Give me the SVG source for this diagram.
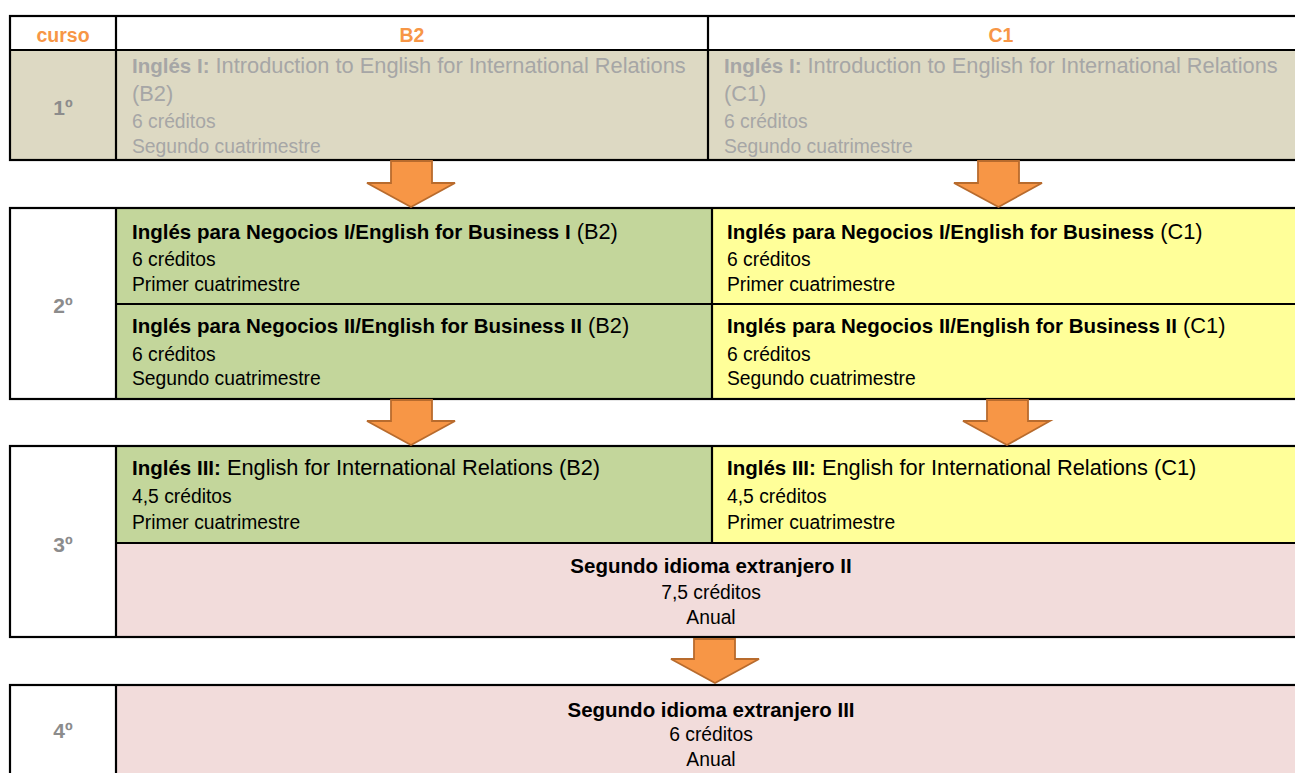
<svg xmlns="http://www.w3.org/2000/svg" width="1295" height="773" viewBox="0 0 1295 773">
<style>
text{font-family:"Liberation Sans",Arial,sans-serif;}
.ln{stroke:#000;stroke-width:2.2;fill:none;}
.tan{fill:#DDD9C3;}
.grn{fill:#C3D69B;}
.yel{fill:#FFFF99;}
.pnk{fill:#F2DCDB;}
.wht{fill:#FFFFFF;}
.hd{font-size:19.5px;font-weight:bold;fill:#F79646;text-anchor:middle;}
.yr{font-size:21px;font-weight:bold;fill:#8C8C8C;text-anchor:middle;}
.tb{font-size:20.5px;font-weight:bold;}
.tr{font-size:21.8px;}
.d{font-size:19.3px;}
.blk{fill:#000;}
.gry{fill:#A6A6A6;}
.c{text-anchor:middle;}
.arr{fill:#F79646;stroke:#B86B2D;stroke-width:1.8;stroke-linejoin:miter;}
</style>
<rect width="1295" height="773" fill="#fff"/>

<!-- Table 1 -->
<g id="t1-curso"><rect class="wht" x="10" y="16" width="106" height="34"/><text class="hd" x="63" y="42">curso</text></g>
<g id="t1-b2-head"><rect class="wht" x="116" y="16" width="592" height="34"/><text class="hd" x="412" y="42">B2</text></g>
<g id="t1-c1-head"><rect class="wht" x="708" y="16" width="600" height="34"/><text class="hd" x="1001" y="42">C1</text></g>
<g id="t1-year"><rect class="tan" x="10" y="50" width="106" height="110"/><text class="yr" x="63" y="115">1º</text></g>
<g id="t1-b2"><rect class="tan" x="116" y="50" width="592" height="110"/>
<text class="gry" x="132" y="73"><tspan class="tb">Inglés I:</tspan><tspan class="tr"> Introduction to English for International Relations</tspan></text>
<text class="gry tr" x="132" y="101">(B2)</text>
<text class="gry d" x="132" y="128">6 créditos</text>
<text class="gry d" x="132" y="153">Segundo cuatrimestre</text></g>
<g id="t1-c1"><rect class="tan" x="708" y="50" width="600" height="110"/>
<text class="gry" x="724" y="73"><tspan class="tb">Inglés I:</tspan><tspan class="tr"> Introduction to English for International Relations</tspan></text>
<text class="gry tr" x="724" y="101">(C1)</text>
<text class="gry d" x="724" y="128">6 créditos</text>
<text class="gry d" x="724" y="153">Segundo cuatrimestre</text></g>
<g id="t1-lines">
<rect class="ln" x="10" y="16" width="1300" height="144"/>
<line class="ln" x1="10" y1="50" x2="1310" y2="50"/>
<line class="ln" x1="116" y1="16" x2="116" y2="160"/>
<line class="ln" x1="708" y1="16" x2="708" y2="160"/>
</g>

<!-- Table 2 -->
<g id="t2-year"><rect class="wht" x="10" y="208" width="106" height="191"/><text class="yr" x="63" y="313">2º</text></g>
<g id="t2-b2-1"><rect class="grn" x="116" y="208" width="596" height="96"/>
<text class="blk" x="132" y="239"><tspan class="tb">Inglés para Negocios I/English for Business I</tspan><tspan class="tr"> (B2)</tspan></text>
<text class="blk d" x="132" y="266">6 créditos</text>
<text class="blk d" x="132" y="291">Primer cuatrimestre</text></g>
<g id="t2-b2-2"><rect class="grn" x="116" y="304" width="596" height="95"/>
<text class="blk" x="132" y="333"><tspan class="tb">Inglés para Negocios II/English for Business II</tspan><tspan class="tr"> (B2)</tspan></text>
<text class="blk d" x="132" y="361">6 créditos</text>
<text class="blk d" x="132" y="385">Segundo cuatrimestre</text></g>
<g id="t2-c1-1"><rect class="yel" x="712" y="208" width="596" height="96"/>
<text class="blk" x="727" y="239"><tspan class="tb">Inglés para Negocios I/English for Business</tspan><tspan class="tr"> (C1)</tspan></text>
<text class="blk d" x="727" y="266">6 créditos</text>
<text class="blk d" x="727" y="291">Primer cuatrimestre</text></g>
<g id="t2-c1-2"><rect class="yel" x="712" y="304" width="596" height="95"/>
<text class="blk" x="727" y="333"><tspan class="tb">Inglés para Negocios II/English for Business II</tspan><tspan class="tr"> (C1)</tspan></text>
<text class="blk d" x="727" y="361">6 créditos</text>
<text class="blk d" x="727" y="385">Segundo cuatrimestre</text></g>
<g id="t2-lines">
<rect class="ln" x="10" y="208" width="1300" height="191"/>
<line class="ln" x1="116" y1="208" x2="116" y2="399"/>
<line class="ln" x1="712" y1="208" x2="712" y2="399"/>
<line class="ln" x1="116" y1="304" x2="1310" y2="304"/>
</g>

<!-- Table 3 -->
<g id="t3-year"><rect class="wht" x="10" y="446" width="106" height="191"/><text class="yr" x="63" y="552">3º</text></g>
<g id="t3-b2"><rect class="grn" x="116" y="446" width="596" height="97"/>
<text class="blk" x="132" y="475"><tspan class="tb">Inglés III:</tspan><tspan class="tr"> English for International Relations (B2)</tspan></text>
<text class="blk d" x="132" y="503">4,5 créditos</text>
<text class="blk d" x="132" y="529">Primer cuatrimestre</text></g>
<g id="t3-c1"><rect class="yel" x="712" y="446" width="596" height="97"/>
<text class="blk" x="727" y="475"><tspan class="tb">Inglés III:</tspan><tspan class="tr"> English for International Relations (C1)</tspan></text>
<text class="blk d" x="727" y="503">4,5 créditos</text>
<text class="blk d" x="727" y="529">Primer cuatrimestre</text></g>
<g id="t3-second"><rect class="pnk" x="116" y="543" width="1192" height="94"/>
<text class="blk tb c" x="711" y="573">Segundo idioma extranjero II</text>
<text class="blk d c" x="711" y="599">7,5 créditos</text>
<text class="blk d c" x="711" y="624">Anual</text></g>
<g id="t3-lines">
<rect class="ln" x="10" y="446" width="1300" height="191"/>
<line class="ln" x1="116" y1="446" x2="116" y2="637"/>
<line class="ln" x1="712" y1="446" x2="712" y2="543"/>
<line class="ln" x1="116" y1="543" x2="1310" y2="543"/>
</g>

<!-- Table 4 -->
<g id="t4-year"><rect class="wht" x="10" y="685" width="106" height="95"/><text class="yr" x="63" y="738">4º</text></g>
<g id="t4-third"><rect class="pnk" x="116" y="685" width="1192" height="95"/>
<text class="blk tb c" x="711" y="717">Segundo idioma extranjero III</text>
<text class="blk d c" x="711" y="741">6 créditos</text>
<text class="blk d c" x="711" y="766">Anual</text></g>
<g id="t4-lines">
<rect class="ln" x="10" y="685" width="1300" height="95"/>
<line class="ln" x1="116" y1="685" x2="116" y2="780"/>
</g>

<!-- Connectors -->
<g id="connectors">
<polygon class="arr" points="391,161 432,161 432,183 455,183 411,207 367,183 391,183"/>
<polygon class="arr" points="978,161 1019,161 1019,183 1042,183 998.5,207 954,183 978,183"/>
<polygon class="arr" points="391,400 432,400 432,421 455,421 411,445 367,421 391,421"/>
<polygon class="arr" points="987,400 1028,400 1028,421 1050,421 1007,445 963,421 987,421"/>
<polygon class="arr" points="694,639 735,639 735,659 759,659 715,683 671,659 694,659"/>
</g>
</svg>
